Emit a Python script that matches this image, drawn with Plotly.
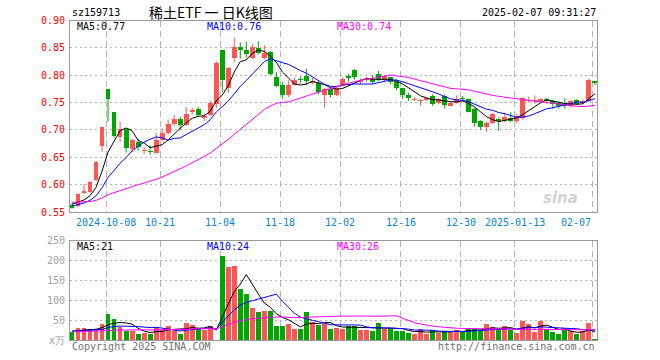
import plotly.graph_objects as go

# ---------------- data ----------------
dates = [
    "2024-09-23", "2024-09-24", "2024-09-25", "2024-09-26", "2024-09-27", "2024-09-30",
    "2024-10-08", "2024-10-09", "2024-10-10", "2024-10-11", "2024-10-14", "2024-10-15",
    "2024-10-16", "2024-10-17", "2024-10-18", "2024-10-21", "2024-10-22", "2024-10-23",
    "2024-10-24", "2024-10-25", "2024-10-28", "2024-10-29", "2024-10-30", "2024-10-31",
    "2024-11-01", "2024-11-04", "2024-11-05", "2024-11-06", "2024-11-07", "2024-11-08",
    "2024-11-11", "2024-11-12", "2024-11-13", "2024-11-14", "2024-11-15", "2024-11-18",
    "2024-11-19", "2024-11-20", "2024-11-21", "2024-11-22", "2024-11-25", "2024-11-26",
    "2024-11-27", "2024-11-28", "2024-11-29", "2024-12-02", "2024-12-03", "2024-12-04",
    "2024-12-05", "2024-12-06", "2024-12-09", "2024-12-10", "2024-12-11", "2024-12-12",
    "2024-12-13", "2024-12-16", "2024-12-17", "2024-12-18", "2024-12-19", "2024-12-20",
    "2024-12-23", "2024-12-24", "2024-12-25", "2024-12-26", "2024-12-27", "2024-12-30",
    "2024-12-31", "2025-01-02", "2025-01-03", "2025-01-06", "2025-01-07", "2025-01-08",
    "2025-01-09", "2025-01-10", "2025-01-13", "2025-01-14", "2025-01-15", "2025-01-16",
    "2025-01-17", "2025-01-20", "2025-01-21", "2025-01-22", "2025-01-23", "2025-01-24",
    "2025-01-27", "2025-02-05", "2025-02-06", "2025-02-07",
]

opens = [
    0.563, 0.561, 0.584, 0.586, 0.608, 0.671, 0.774, 0.732, 0.687, 0.701, 0.666, 0.678,
    0.661, 0.662, 0.658, 0.681, 0.694, 0.711, 0.720, 0.709, 0.732, 0.738, 0.722, 0.728,
    0.747, 0.846, 0.776, 0.832, 0.852, 0.846, 0.832, 0.850, 0.831, 0.842, 0.797, 0.782,
    0.764, 0.783, 0.794, 0.798, 0.785, 0.785, 0.763, 0.774, 0.764, 0.781, 0.798, 0.810,
    0.787, 0.791, 0.794, 0.803, 0.791, 0.796, 0.790, 0.776, 0.763, 0.755, 0.753, 0.755,
    0.762, 0.749, 0.762, 0.744, 0.750, 0.758, 0.756, 0.739, 0.716, 0.705, 0.713, 0.720,
    0.716, 0.722, 0.716, 0.721, 0.753, 0.753, 0.752, 0.757, 0.752, 0.749, 0.749, 0.743,
    0.755, 0.750, 0.752, 0.790,
]
highs = [
    0.566, 0.584, 0.601, 0.607, 0.643, 0.706, 0.775, 0.732, 0.715, 0.703, 0.684, 0.683,
    0.669, 0.672, 0.694, 0.703, 0.719, 0.727, 0.724, 0.742, 0.740, 0.742, 0.730, 0.753,
    0.826, 0.847, 0.815, 0.869, 0.860, 0.861, 0.857, 0.862, 0.855, 0.845, 0.806, 0.788,
    0.791, 0.795, 0.798, 0.812, 0.795, 0.789, 0.777, 0.776, 0.780, 0.796, 0.803, 0.811,
    0.794, 0.797, 0.800, 0.808, 0.801, 0.797, 0.792, 0.777, 0.768, 0.760, 0.757, 0.760,
    0.765, 0.758, 0.765, 0.751, 0.763, 0.762, 0.757, 0.740, 0.718, 0.716, 0.731, 0.723,
    0.730, 0.733, 0.730, 0.760, 0.761, 0.763, 0.758, 0.758, 0.755, 0.752, 0.758, 0.755,
    0.756, 0.756, 0.794, 0.790,
]
lows = [
    0.556, 0.559, 0.583, 0.585, 0.606, 0.660, 0.715, 0.686, 0.678, 0.659, 0.659, 0.662,
    0.656, 0.655, 0.657, 0.680, 0.692, 0.707, 0.700, 0.707, 0.728, 0.725, 0.716, 0.726,
    0.740, 0.770, 0.768, 0.824, 0.830, 0.832, 0.830, 0.838, 0.829, 0.800, 0.778, 0.757,
    0.760, 0.781, 0.785, 0.782, 0.783, 0.765, 0.741, 0.759, 0.762, 0.779, 0.788, 0.792,
    0.783, 0.788, 0.785, 0.789, 0.789, 0.784, 0.773, 0.757, 0.753, 0.753, 0.744, 0.753,
    0.744, 0.747, 0.739, 0.743, 0.748, 0.753, 0.732, 0.706, 0.700, 0.696, 0.711, 0.698,
    0.714, 0.714, 0.712, 0.719, 0.750, 0.748, 0.749, 0.748, 0.739, 0.739, 0.739, 0.741,
    0.746, 0.747, 0.751, 0.782,
]
closes = [
    0.558, 0.583, 0.588, 0.605, 0.642, 0.706, 0.756, 0.688, 0.701, 0.667, 0.681, 0.668,
    0.663, 0.659, 0.681, 0.694, 0.711, 0.720, 0.709, 0.730, 0.737, 0.728, 0.726, 0.750,
    0.823, 0.792, 0.813, 0.851, 0.846, 0.838, 0.852, 0.841, 0.841, 0.803, 0.781, 0.764,
    0.782, 0.791, 0.792, 0.790, 0.789, 0.769, 0.774, 0.764, 0.777, 0.794, 0.795, 0.796,
    0.790, 0.794, 0.787, 0.794, 0.798, 0.788, 0.776, 0.764, 0.759, 0.757, 0.755, 0.758,
    0.748, 0.756, 0.746, 0.750, 0.757, 0.756, 0.733, 0.713, 0.705, 0.713, 0.729, 0.716,
    0.724, 0.717, 0.725, 0.758, 0.755, 0.755, 0.756, 0.752, 0.747, 0.743, 0.743, 0.753,
    0.748, 0.752, 0.792, 0.786,
]
# volume, unit: 万
volumes = [
    19, 31, 31, 27, 27, 40, 66, 54, 33, 23, 23, 15,
    18, 15, 34, 26, 36, 23, 15, 44, 39, 28, 26, 36,
    -4, 211, 184, 187, 128, 116, 80, 70, 73, 73, 35, 35,
    40, 28, 28, 70, 45, 37, 40, 28, 31, 28, 35, 36,
    26, 26, 23, 42, 29, 28, 23, 23, 18, 15, 28, 15,
    26, 18, 23, 21, 25, 21, 30, 28, 23, 40, 32, 25,
    35, 25, 18, 49, 41, 20, 49, 29, 19, 16, 25, 23,
    14, 24, 42, 3,
]
# closes / volumes of the 29 sessions before the first candle (only for the MA lines)
prior_closes = [
    0.580, 0.578, 0.577, 0.576, 0.575, 0.574, 0.573, 0.572, 0.572, 0.571,
    0.571, 0.570, 0.570, 0.569, 0.568, 0.567, 0.566, 0.565, 0.564, 0.563,
    0.559, 0.558, 0.557, 0.558, 0.558, 0.565, 0.566, 0.566, 0.565,
]
prior_volumes = [
    20, 21, 19, 20, 22, 18, 20, 21, 19, 20,
    18, 19, 21, 20, 19, 18, 20, 19, 21, 20,
    22, 21, 23, 22, 20, 22, 24, 23, 24,
]

tick_dates = ["2024-10-08", "2024-10-21", "2024-11-04", "2024-11-18", "2024-12-02",
              "2024-12-16", "2024-12-30", "2025-01-13", "2025-02-07"]
tick_labels = ["2024-10-08", "10-21", "11-04", "11-18", "12-02",
               "12-16", "12-30", "2025-01-13", "02-07"]
price_ticks = [0.55, 0.60, 0.65, 0.70, 0.75, 0.80, 0.85, 0.90]
volume_ticks = [50, 100, 150, 200, 250]

symbol = "sz159713"
title_text = "稀土ETF 一 日K线图"
stamp = "2025-02-07 09:31:27"

# ---------------- derived ----------------
n = len(dates)
xs = list(range(n))
RED = "#ff5555"
GREEN = "#00a600"
up = [c >= o for o, c in zip(opens, closes)]
colors = [RED if u else GREEN for u in up]


def moving_avg(vals, prior, k):
    full = list(prior) + list(vals)
    off = len(prior)
    return [sum(full[j - k + 1:j + 1]) / k for j in range(off, off + len(vals))]


ma_p = {k: moving_avg(closes, prior_closes, k) for k in (5, 10, 30)}
ma_v = {k: moving_avg(volumes, prior_volumes, k) for k in (5, 10, 30)}
MA_COL = {5: "#000000", 10: "#0000ff", 30: "#ff00ff"}

W, H = 660, 360
PX_L, PX_R = 70, 597
P_TOP, P_BOT = 20.5, 212
V_TOP, V_BOT = 241, 340
X_RANGE = [-0.333, 87.35]
grid_x = [dates.index(d) - 0.333 for d in tick_dates]

fig = go.Figure()

# candle wicks
for flag, col in ((True, RED), (False, GREEN)):
    wx, wy = [], []
    for i in xs:
        if up[i] == flag:
            wx += [i, i, None]
            wy += [lows[i], highs[i], None]
    fig.add_trace(go.Scatter(x=wx, y=wy, mode="lines", line=dict(color=col, width=1),
                             xaxis="x", yaxis="y", hoverinfo="skip", showlegend=False))
# candle bodies
fig.add_trace(go.Bar(
    x=xs, y=[max(abs(c - o), 0.0018) for o, c in zip(opens, closes)],
    base=[min(o, c) for o, c in zip(opens, closes)],
    marker=dict(color=colors, line=dict(width=0)), width=0.8,
    xaxis="x", yaxis="y", showlegend=False))
for k in (5, 10, 30):
    fig.add_trace(go.Scatter(x=xs, y=ma_p[k], mode="lines", line=dict(color=MA_COL[k], width=1),
                             xaxis="x", yaxis="y", showlegend=False))

# volume
fig.add_trace(go.Bar(x=xs, y=volumes, marker=dict(color=colors, line=dict(width=0)), width=0.8,
                     xaxis="x2", yaxis="y2", cliponaxis=False, showlegend=False))
for k in (5, 10, 30):
    fig.add_trace(go.Scatter(x=xs, y=ma_v[k], mode="lines", line=dict(color=MA_COL[k], width=1),
                             xaxis="x2", yaxis="y2", showlegend=False))

axis_common = dict(showline=True, mirror=True, linecolor="#999999", linewidth=1,
                   zeroline=False, ticks="", showticklabels=False, fixedrange=True)
xdom = [PX_L / W, PX_R / W]
fig.update_layout(
    width=W, height=H, margin=dict(l=0, r=0, t=0, b=0),
    paper_bgcolor="white", plot_bgcolor="white", showlegend=False, bargap=0,
    xaxis=dict(domain=xdom, range=X_RANGE, anchor="y", tickvals=grid_x, showgrid=True,
               gridcolor="#b4b4b4", griddash="6px,4px", gridwidth=1, **axis_common),
    yaxis=dict(domain=[1 - P_BOT / H, 1 - P_TOP / H], range=[0.55, 0.90], anchor="x",
               tickvals=price_ticks, showgrid=True, gridcolor="#b4b4b4", griddash="2px,3px",
               gridwidth=1, **axis_common),
    xaxis2=dict(domain=xdom, range=X_RANGE, anchor="y2", tickvals=grid_x, showgrid=True,
                gridcolor="#b4b4b4", griddash="6px,4px", gridwidth=1, **axis_common),
    yaxis2=dict(domain=[1 - V_BOT / H, 1 - V_TOP / H], range=[0, 250], anchor="x2",
                tickvals=volume_ticks, showgrid=True, gridcolor="#b4b4b4", griddash="2px,3px",
                gridwidth=1, **axis_common),
)

MONO = "DejaVu Sans Mono"
ann = []


def txt(text, x, y, xref="paper", yref="paper", xanchor="left", color="#000", size=10,
        family=MONO, **kw):
    ann.append(dict(text=text, x=x, y=y, xref=xref, yref=yref, xanchor=xanchor,
                    yanchor="middle", showarrow=False,
                    font=dict(family=family, size=size, color=color), **kw))


# header
txt(symbol, 70 / W, 1 - 13 / H)
txt(title_text, 211 / W, 1 - 12 / H, xanchor="center", size=14, family="Noto Sans CJK SC")
txt(stamp, 598 / W, 1 - 13 / H, xanchor="right")
# MA legends
txt(f"MA5:{ma_p[5][-1]:.2f}", 75 / W, 1 - 27 / H, color=MA_COL[5])
txt(f"MA10:{ma_p[10][-1]:.2f}", 205 / W, 1 - 27 / H, color=MA_COL[10])
txt(f"MA30:{ma_p[30][-1]:.2f}", 335 / W, 1 - 27 / H, color=MA_COL[30])
txt(f"MA5:{round(ma_v[5][-1])}", 75 / W, 1 - 246 / H, color=MA_COL[5])
txt(f"MA10:{round(ma_v[10][-1])}", 205 / W, 1 - 246 / H, color=MA_COL[10])
txt(f"MA30:{round(ma_v[30][-1])}", 335 / W, 1 - 246 / H, color=MA_COL[30])
# price axis labels
for v in price_ticks:
    txt(f"{v:.2f}", 67 / W, v, yref="y", xanchor="right", color="#ff0000")
# volume axis labels
for v in volume_ticks:
    txt(str(v), 67 / W, v, yref="y2", xanchor="right", color="#a0a0a0")
txt("x万", 67 / W, 1 - 340 / H, xanchor="right", color="#a0a0a0")
# date labels
for gx, lab in zip(grid_x, tick_labels):
    last = lab == tick_labels[-1]
    txt(lab, gx, 1 - 222 / H, xref="x", xanchor="right" if last else "center", color="#0a84d6")
# footer
txt("Copyright 2025 SINA.COM", 70 / W, 1 - 346 / H, color="#707070")
txt("http://finance.sina.com.cn", 597 / W, 1 - 346 / H, xanchor="right", color="#707070")
# watermark
ann.append(dict(text="<b><i>sina</i></b>", x=580 / W, y=1 - 198 / H, xref="paper", yref="paper",
                showarrow=False, font=dict(family="DejaVu Sans", size=15, color="#d2d2d2")))
fig.update_layout(annotations=ann)

fig.write_html("out.html", config={"displayModeBar": False, "staticPlot": True},
               post_script="document.body.style.margin='0';document.body.style.overflow='hidden';")
